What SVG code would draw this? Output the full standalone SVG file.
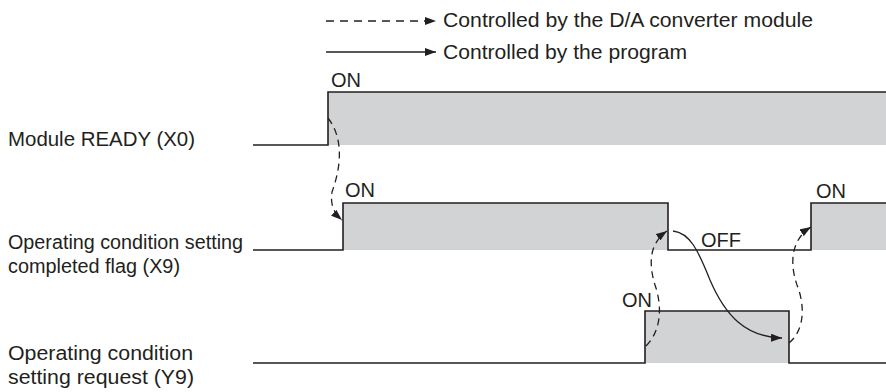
<svg xmlns="http://www.w3.org/2000/svg" width="886" height="392" viewBox="0 0 886 392">
<defs>
<marker id="ah" viewBox="0 0 11 8" refX="11" refY="4" markerWidth="11" markerHeight="8" markerUnits="userSpaceOnUse" orient="auto">
<path d="M0,0 L11,4 L0,8 Z" fill="#231f20"/>
</marker>
<style>
text{font-family:"Liberation Sans",Arial,sans-serif;font-size:20px;fill:#231f20}
.lg{font-size:21px}
.fill{fill:#d1d3d4;stroke:none}
.sig{fill:none;stroke:#231f20;stroke-width:1.6}
.dash{fill:none;stroke:#231f20;stroke-width:1.3;stroke-dasharray:7 5;marker-end:url(#ah)}
.solid{fill:none;stroke:#231f20;stroke-width:1.3;marker-end:url(#ah)}
</style>
</defs>
<rect width="886" height="392" fill="#fff"/>
<g id="legend">
<line class="dash" x1="326" y1="21" x2="436" y2="21" style="stroke-dasharray:8 6"/>
<text class="lg" x="443" y="27" textLength="370" lengthAdjust="spacingAndGlyphs">Controlled by the D/A converter module</text>
<line class="solid" x1="326" y1="52" x2="436" y2="52"/>
<text class="lg" x="443" y="59" textLength="244" lengthAdjust="spacingAndGlyphs">Controlled by the program</text>
</g>
<g id="x0">
<rect class="fill" x="328" y="92" width="558" height="53"/>
<path class="sig" d="M253,145 H328 V92 H886"/>
<text x="8" y="146" textLength="187" lengthAdjust="spacingAndGlyphs">Module READY (X0)</text>
<text x="331" y="87">ON</text>
</g>
<g id="x9">
<rect class="fill" x="343" y="203" width="325" height="47"/>
<rect class="fill" x="811" y="203" width="75" height="47"/>
<path class="sig" d="M253,250 H343 V203 H668 V250 H811 V203 H886"/>
<text x="8" y="249" textLength="235" lengthAdjust="spacingAndGlyphs">Operating condition setting</text>
<text x="8" y="273" textLength="172" lengthAdjust="spacingAndGlyphs">completed flag (X9)</text>
<text x="345" y="197">ON</text>
<text x="701" y="247">OFF</text>
<text x="816" y="198">ON</text>
</g>
<g id="y9">
<rect class="fill" x="645" y="311" width="144" height="52"/>
<path class="sig" d="M253,363 H645 V311 H789 V363 H886"/>
<text x="8" y="360" textLength="185" lengthAdjust="spacingAndGlyphs">Operating condition</text>
<text x="8" y="384" textLength="186" lengthAdjust="spacingAndGlyphs">setting request (Y9)</text>
<text x="622" y="307">ON</text>
</g>
<g id="connectors">
<path class="dash" d="M328,118 C345,140 340,170 332,192 C330,205 334,213 342,220"/>
<path class="dash" d="M646,346 C662,330 662,305 655,285 C648,262 650,243 667,231"/>
<path class="solid" d="M673,231 C690,233 698,250 710,280 C725,315 745,337 782,338"/>
<path class="dash" d="M789,343 C805,330 805,305 797,285 C790,265 790,240 811,227"/>
</g>
</svg>
